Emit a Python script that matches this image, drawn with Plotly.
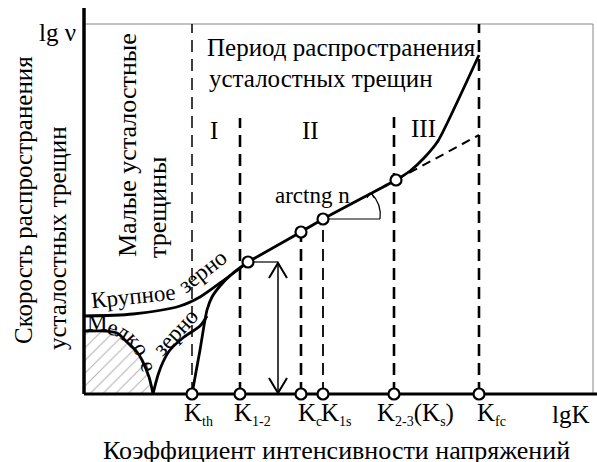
import plotly.graph_objects as go

# Schematic coordinates: x = lgK (arbitrary units), y = lg v (arbitrary units)
SUB = "<sub><span style='font-size:14px'>{}</span></sub>"
K_names = ["K" + SUB.format("th"), "K" + SUB.format("1-2"), "K" + SUB.format("c"), "K" + SUB.format("1s"),
           "K" + SUB.format("2-3") + "(K" + SUB.format("s") + ")", "K" + SUB.format("fc")]
K_x = [108, 156, 217, 239, 310, 395]
K_label_x = [98, 148, 212, 235, 291, 391]
boundary_top = [370, 276, 162, 175, 277, 370]
boundary_width = [1.5, 2.6, 2.6, 1.8, 2.6, 2.6]

coarse_x = [0, 49, 96, 116, 136, 164]
coarse_y = [78, 80, 88, 97, 111, 132]
fine_left_x = [0, 22, 33, 43, 53, 58, 65, 68, 69]
fine_left_y = [63, 63, 61, 52, 42, 34, 17, 5, 0]
fine_right_x = [69, 74, 79, 86, 100, 116, 123]
fine_right_y = [0, 19, 32, 44, 57, 68, 78]
thr_x = [108, 116, 123, 128, 136, 148, 164]
thr_y = [0, 44, 84, 97, 108, 120, 132]
paris_x = [164, 217, 239, 284, 312, 326, 340, 354, 395]
paris_y = [132, 162, 175, 199, 214, 223, 236, 253, 339]
ext_x = [312, 395]
ext_y = [214, 259]
pts_x = [164, 217, 239, 312]
pts_y = [132, 162, 175, 214]

# "Мелкое зерно" letters laid along the fine-grain curve
fine_letters = ["М", "е", "л", "к", "о", "е"]
fine_letter_x = [13, 29, 39, 50, 58, 65]
fine_letter_y = [72, 67, 63, 55, 45, 28]
fine_letter_angle = [0, 15, 32, 48, 62, 75]

FONT = "Liberation Serif"
fig = go.Figure()

def line(x, y, w=2.5, dash=None, color="black", shape="linear", smooth=None):
    ln = dict(color=color, width=w, shape=shape)
    if dash:
        ln["dash"] = dash
    if smooth is not None:
        ln["smoothing"] = smooth
    fig.add_trace(go.Scatter(x=x, y=y, mode="lines", line=ln, hoverinfo="skip", showlegend=False))

# hatched region under fine-grain curve
fig.add_trace(go.Scatter(x=fine_left_x + [0], y=fine_left_y + [0], mode="lines", fill="toself",
                         line=dict(width=0), fillcolor="rgba(0,0,0,0)",
                         fillpattern=dict(shape="/", fgcolor="#666", bgcolor="white", size=9, solidity=0.12),
                         hoverinfo="skip", showlegend=False))

# frame
line([0, 509, 509], [370, 370, 0], w=1, color="#888")
# boundaries
for kx, top, w in zip(K_x, boundary_top, boundary_width):
    line([kx, kx], [0, top], w=w, dash="12px,7px")
# axes
line([0, 0], [0, 386], w=3.5)
line([0, 513], [0, 0], w=3)

# curves
line(coarse_x, coarse_y, w=2.8, shape="spline", smooth=0.8)
line(fine_left_x, fine_left_y, w=2.8, shape="spline", smooth=0.8)
line(fine_right_x, fine_right_y, w=2.8, shape="spline", smooth=0.8)
line(thr_x, thr_y, w=2.8, shape="spline", smooth=0.7)
line(paris_x, paris_y, w=2.8, shape="spline", smooth=0.5)
line(ext_x, ext_y, w=2, dash="9px,6px")

# angle marker
line([239, 296], [175, 175], w=1.2)
fig.add_shape(type="path", path="M 296,175 Q 298,190 287,201", xref="x", yref="y",
              line=dict(color="black", width=1.2))
line([283, 287, 290], [196, 201, 196], w=1)

# double arrow
line([164, 194], [132, 132], w=1.2)
line([194, 194], [1, 131], w=1.5)
line([185, 194, 203], [116, 131, 116], w=2)
line([185, 194, 203], [16, 1, 16], w=2)

# circles
fig.add_trace(go.Scatter(x=pts_x, y=pts_y, mode="markers",
                         marker=dict(symbol="circle", size=11, color="white", line=dict(color="black", width=2.2)),
                         hoverinfo="skip", showlegend=False))
fig.add_trace(go.Scatter(x=K_x, y=[0] * len(K_x), mode="markers",
                         marker=dict(symbol="circle", size=11, color="white", line=dict(color="black", width=2.2)),
                         hoverinfo="skip", showlegend=False))

ann = []
def txt(x, y, s, size=25, angle=0, xa="center", ya="middle"):
    ann.append(dict(x=x, y=y, text=s, showarrow=False, textangle=angle, xanchor=xa, yanchor=ya,
                    font=dict(family=FONT, size=size, color="black")))

for name, lx in zip(K_names, K_label_x):
    txt(lx, -20, name, xa="left")
txt(466, -20, "lgK", xa="left")
txt(252, -56, "Коэффициент интенсивности напряжений", size=26)
txt(-27, 362, "lg ν")
txt(-61, 194, "Скорость распространения", size=25, angle=-90)
txt(-27, 156, "усталостных трещин", size=25, angle=-90)
txt(43, 249, "Малые усталостные", size=26, angle=-90)
txt(73, 187, "трещины", size=26, angle=-90)
txt(121, 347, "Период распространения", xa="left")
txt(123, 316, "усталостных трещин", xa="left")
txt(130, 264, "I")
txt(226, 264, "II")
txt(339, 266, "III")
txt(228, 199, "arctng n", size=23)
txt(49, 98, "Крупное", size=23, angle=-6)
txt(118, 123, "зерно", size=23, angle=-38)
for s, lx, ly, la in zip(fine_letters, fine_letter_x, fine_letter_y, fine_letter_angle):
    txt(lx, ly, s, size=23, angle=la)
txt(91, 62, "зерно", size=23, angle=-47)

fig.update_layout(width=597, height=462, margin=dict(l=0, r=0, t=0, b=0),
                  paper_bgcolor="white", plot_bgcolor="white", annotations=ann,
                  xaxis=dict(range=[-84, 513], visible=False, fixedrange=True),
                  yaxis=dict(range=[-68, 394], visible=False, fixedrange=True),
                  showlegend=False)
fig.write_html("out.html", config={"displayModeBar": False},
               post_script="document.body.style.margin='0';")
